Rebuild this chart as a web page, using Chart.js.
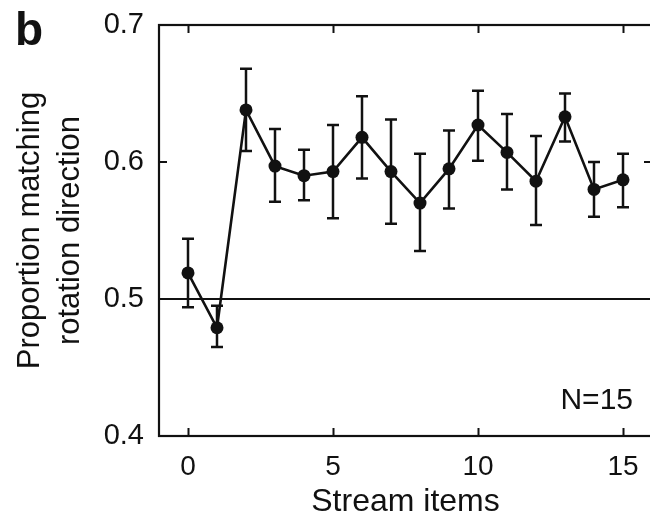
<!DOCTYPE html>
<html>
<head>
<meta charset="utf-8">
<script src="https://cdn.jsdelivr.net/npm/chart.js@4/dist/chart.umd.min.js"></script>
<style>
  html, body { margin: 0; padding: 0; background: #fff; overflow: hidden; }
  #wrap { width: 660px; height: 518px; }
</style>
</head>
<body>
<div id="wrap"><canvas id="streamChart" width="660" height="518"></canvas></div>
<script>
// Stream item index and proportion of responses matching rotation direction
const items = [0, 1, 2, 3, 4, 5, 6, 7, 8, 9, 10, 11, 12, 13, 14, 15];
const meanProp = [0.519, 0.479, 0.638, 0.597, 0.590, 0.593, 0.618, 0.593, 0.570, 0.595, 0.627, 0.607, 0.586, 0.633, 0.580, 0.587];
const upperErr = [0.544, 0.495, 0.668, 0.624, 0.609, 0.627, 0.648, 0.631, 0.606, 0.623, 0.652, 0.635, 0.619, 0.650, 0.600, 0.606];
const lowerErr = [0.494, 0.465, 0.608, 0.571, 0.572, 0.559, 0.588, 0.555, 0.535, 0.566, 0.601, 0.580, 0.554, 0.615, 0.560, 0.567];

const xTicks = [0, 5, 10, 15];
const yTicks = [0.4, 0.5, 0.6, 0.7];
const chanceLevel = 0.5;
const panelLabel = 'b';
const sampleNote = 'N=15';

const INK = '#111111';
const FONT = "'Liberation Sans', Arial, Helvetica, sans-serif";

// Frame, inward ticks, chance line, error bars and the panel annotations
const figureDecor = {
  id: 'figureDecor',
  beforeDatasetsDraw(chart) {
    const { ctx, chartArea: a, scales: { x, y } } = chart;
    ctx.save();
    ctx.strokeStyle = INK;
    ctx.lineWidth = 2.2;
    ctx.strokeRect(a.left, a.top, a.right - a.left, a.bottom - a.top);

    const tl = 8;
    ctx.lineWidth = 2;
    ctx.beginPath();
    xTicks.forEach(v => {
      const px = Math.round(x.getPixelForValue(v)) + 0.5;
      ctx.moveTo(px, a.bottom); ctx.lineTo(px, a.bottom - tl);
      ctx.moveTo(px, a.top); ctx.lineTo(px, a.top + tl);
    });
    yTicks.forEach(v => {
      const py = y.getPixelForValue(v);
      ctx.moveTo(a.left, py); ctx.lineTo(a.left + tl, py);
      ctx.moveTo(a.right, py); ctx.lineTo(a.right - tl, py);
    });
    ctx.stroke();

    const cy = y.getPixelForValue(chanceLevel);
    ctx.beginPath();
    ctx.moveTo(a.left, cy); ctx.lineTo(a.right, cy);
    ctx.stroke();

    // SEM bars with flat caps
    const cap = 6;
    ctx.lineWidth = 2.5;
    ctx.beginPath();
    items.forEach((it, i) => {
      const px = x.getPixelForValue(it);
      const yHi = y.getPixelForValue(upperErr[i]);
      const yLo = y.getPixelForValue(lowerErr[i]);
      ctx.moveTo(px, yHi); ctx.lineTo(px, yLo);
      ctx.moveTo(px - cap, yHi); ctx.lineTo(px + cap, yHi);
      ctx.moveTo(px - cap, yLo); ctx.lineTo(px + cap, yLo);
    });
    ctx.stroke();
    ctx.restore();
  },
  afterDraw(chart) {
    const { ctx } = chart;
    ctx.save();
    ctx.fillStyle = INK;
    ctx.textBaseline = 'alphabetic';
    ctx.textAlign = 'left';
    ctx.font = 'bold 46px ' + FONT;
    ctx.fillText(panelLabel, 15, 45);
    ctx.textAlign = 'right';
    ctx.font = '30px ' + FONT;
    ctx.fillText(sampleNote, 633, 409);
    ctx.restore();
  }
};

const ctx = document.getElementById('streamChart').getContext('2d');
new Chart(ctx, {
  type: 'line',
  data: {
    datasets: [{
      data: items.map((it, i) => ({ x: it, y: meanProp[i] })),
      borderColor: INK,
      backgroundColor: INK,
      borderWidth: 2.6,
      pointRadius: 6.5,
      pointBorderWidth: 0,
      pointBackgroundColor: INK,
      tension: 0
    }]
  },
  options: {
    responsive: false,
    animation: false,
    events: [],
    layout: { padding: { top: 25, right: 8, bottom: 0, left: 0 } },
    plugins: { legend: { display: false }, tooltip: { enabled: false } },
    scales: {
      x: {
        type: 'linear',
        min: -1,
        max: 16,
        afterBuildTicks: s => { s.ticks = xTicks.map(v => ({ value: v })); },
        afterFit: s => { s.height = 82; },
        grid: { display: false, drawTicks: false },
        border: { display: false },
        ticks: { color: INK, padding: 14, font: { family: FONT, size: 28 }, maxRotation: 0 },
        title: {
          display: true,
          text: 'Stream items',
          color: INK,
          padding: { top: 0, bottom: 0 },
          font: { family: FONT, size: 32, lineHeight: 1 }
        }
      },
      y: {
        type: 'linear',
        min: 0.4,
        max: 0.7,
        afterBuildTicks: s => { s.ticks = yTicks.map(v => ({ value: v })); },
        afterFit: s => { s.width = 159; s.paddingTop = 0; s.paddingBottom = 0; },
        grid: { display: false, drawTicks: false },
        border: { display: false },
        ticks: {
          color: INK,
          padding: 15,
          font: { family: FONT, size: 29 },
          callback: v => v.toFixed(1)
        },
        title: {
          display: true,
          text: ['Proportion matching', 'rotation direction'],
          color: INK,
          padding: { top: 11, bottom: 0 },
          font: { family: FONT, size: 31, lineHeight: 1.27 }
        }
      }
    }
  },
  plugins: [figureDecor]
});
</script>
</body>
</html>
